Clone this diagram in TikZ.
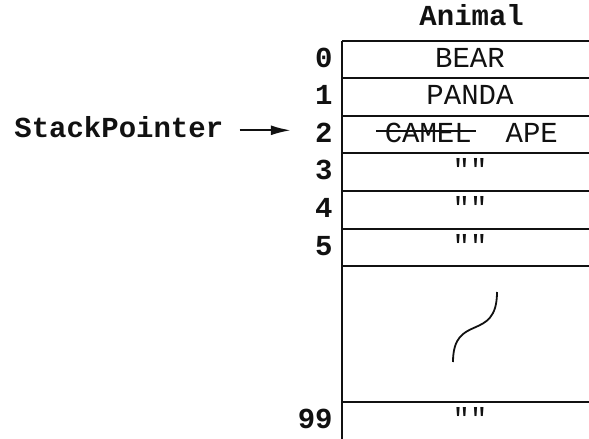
\documentclass[tikz,border=0pt]{standalone}
\usepackage{fontspec}
\setmonofont{Liberation Mono}
\usetikzlibrary{arrows.meta,positioning,calc}
\usepackage{xcolor}
\definecolor{Ink}{HTML}{111111}
\newcommand{\SlotIdx}[3]{%
  \node[anchor=base east,inner sep=0pt,text=Ink,font=\ttfamily\bfseries\fontsize{14.5}{17}\selectfont] (idx#1) at (333,#2) {#3};%
}
\newcommand{\SlotVal}[3]{%
  \node[anchor=base,inner sep=0pt,text=Ink,font=\ttfamily\fontsize{14.5}{17}\selectfont] (val#1) at (470,#2) {#3};%
}

\begin{document}
\begin{tikzpicture}[x=0.5pt,y=-0.5pt,
  rule/.style={Ink,line width=1pt},
  pointer/.style={Ink,line width=1pt,-{Latex[length=10pt,width=5pt]}}]
\useasboundingbox (0,0) rectangle (589,439);
\node[anchor=base,inner sep=0pt,text=Ink,font=\ttfamily\bfseries\fontsize{14.5}{17}\selectfont] (head) at (471.7,25.7) {Animal};
% array cells
\draw[rule] (342,40.5) -- (342,439);
\foreach \y in {40.5,78,115.5,153,190.7,228.5,266,402.3} {
  \draw[rule] (342,\y) -- (589,\y);
}
\SlotIdx{0}{67}{0}
\SlotIdx{1}{104.5}{1}
\SlotIdx{2}{142}{2}
\SlotIdx{3}{179.6}{3}
\SlotIdx{4}{217.3}{4}
\SlotIdx{5}{255}{5}
\SlotIdx{99}{428.3}{99}
\SlotVal{0}{67}{BEAR}
\SlotVal{1}{104.5}{PANDA}
\SlotVal{3}{179.6}{""}
\SlotVal{4}{217.3}{""}
\SlotVal{5}{255}{""}
\SlotVal{99}{428.3}{""}
\node[anchor=base,inner sep=0pt,text=Ink,font=\ttfamily\fontsize{14.5}{17}\selectfont] (camel) at (428.3,142) {CAMEL};
\node[anchor=base,inner sep=0pt,text=Ink,font=\ttfamily\fontsize{14.5}{17}\selectfont] (ape) at (531.7,142) {APE};
\draw[Ink,line width=0.8pt] ([xshift=-4pt,yshift=5.6pt]camel.base west) -- ([xshift=2pt,yshift=5.6pt]camel.base east);
% gap in the array
\draw[Ink,line width=0.9pt] (453,362) .. controls (453,312) and (497,343) .. (497,292);
% pointer
\node[anchor=base west,inner sep=0pt,text=Ink,font=\ttfamily\bfseries\fontsize{14.5}{17}\selectfont] (sp) at (14,137) {StackPointer};
\coordinate (spLevel) at ([yshift=1pt]idx2.west);
\draw[pointer] ([xshift=8pt]sp.east |- spLevel) -- ([xshift=-12pt]spLevel);
\end{tikzpicture}
\end{document}
